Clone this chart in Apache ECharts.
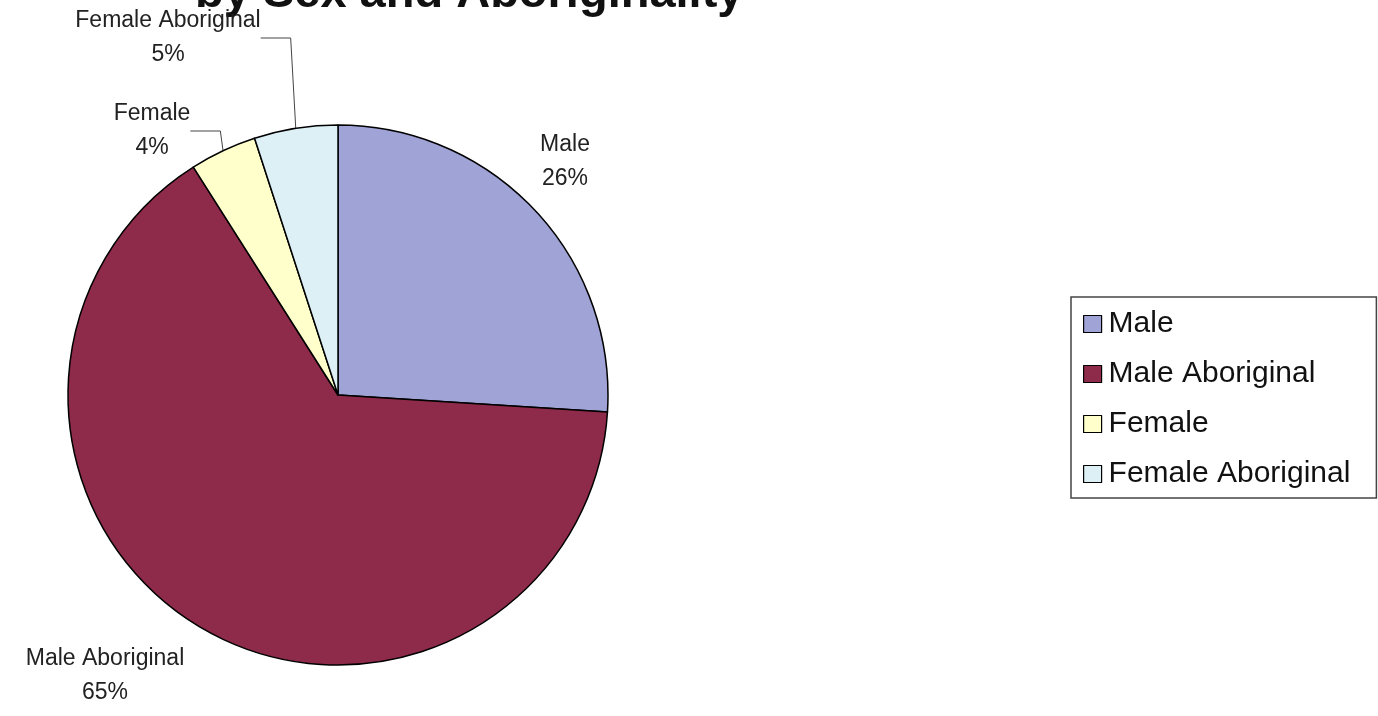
<!DOCTYPE html>
<html>
<head>
<meta charset="utf-8">
<script src="https://cdn.jsdelivr.net/npm/echarts@6/dist/echarts.min.js"></script>
<style>
html,body{margin:0;padding:0;background:#fff;}
#chart{width:1378px;height:716px;}
</style>
</head>
<body>
<div id="chart"></div>
<script>
const categories = ["Male", "Male Aboriginal", "Female", "Female Aboriginal"];
const values = [26, 65, 4, 5];
const colors = ["#9fa3d6", "#8e2a4a", "#ffffcc", "#dcf0f6"];
const titleText = "by Sex and Aboriginality";

const labelPos = [[565, 162], [105, 676], [152, 131], [168, 38]];

const chart = echarts.init(document.getElementById('chart'), null, {renderer: 'canvas'});
chart.setOption({
  backgroundColor: '#ffffff',
  animation: false,
  graphic: [{
    type: 'text', left: 195, top: -29,
    style: {text: titleText, font: 'bold 47px "Liberation Sans", Arial, sans-serif', fill: '#111'}
  }],
  legend: {
    orient: 'vertical', left: 1071, top: 297,
    padding: [12, 26, 9, 12], itemGap: 20,
    itemWidth: 18, itemHeight: 17, icon: 'rect',
    borderColor: '#444', borderWidth: 1.5,
    itemStyle: {borderColor: '#000', borderWidth: 1.2},
    textStyle: {fontSize: 30, color: '#111', fontFamily: '"Liberation Sans", Arial, sans-serif', padding: [0, 0, 0, 2]},
    data: categories
  },
  series: [{
    type: 'pie',
    center: [338, 395], radius: 270,
    startAngle: 90, clockwise: true,
    itemStyle: {borderColor: '#000', borderWidth: 1.5},
    label: {
      show: true, formatter: '{b}\n{d}%', fontSize: 23, lineHeight: 34,
      color: '#222', fontFamily: '"Liberation Sans", Arial, sans-serif', align: 'center',
      overflow: 'none'
    },
    labelLine: {show: true, lineStyle: {color: '#444', width: 1}},
    labelLayout: function (p) {
      const pos = labelPos[p.dataIndex];
      return {x: pos[0], y: pos[1], align: 'center', verticalAlign: 'middle'};
    },
    data: categories.map((c, i) => ({
      name: c, value: values[i], itemStyle: {color: colors[i]},
      labelLine: {show: i >= 2}
    }))
  }]
});
</script>
</body>
</html>
